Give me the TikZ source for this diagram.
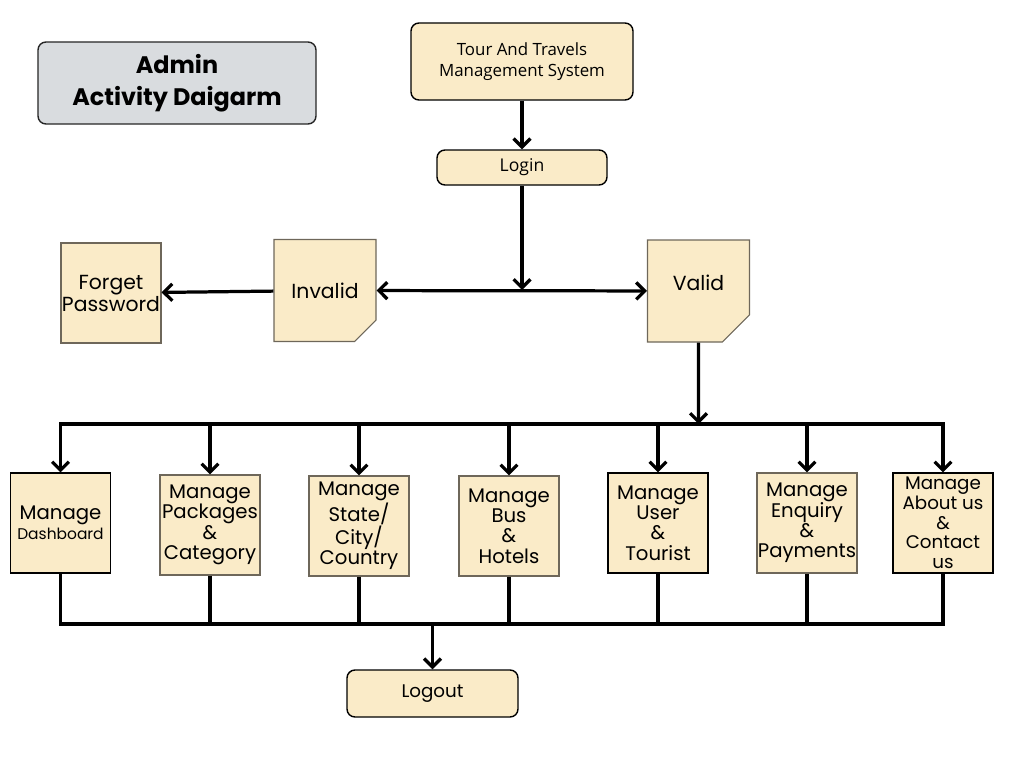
\documentclass[tikz,border=0pt]{standalone}
\usepackage{fontspec}
\setmainfont{Poppins}
\newfontfamily\grot{Open Sans}
\usepackage{tikz}
\usetikzlibrary{positioning,arrows.meta,shapes.misc}
\definecolor{cream}{HTML}{FAEBC8}
\definecolor{hdrgray}{HTML}{D9DCDF}
\definecolor{edge}{HTML}{6E675A}
\tikzset{
  hdr/.style={rectangle, rounded corners=2mm, fill=hdrgray, draw=black!85, line width=1pt, minimum width=69.5mm, minimum height=20.5mm, align=center, font=\fontsize{17}{23}\selectfont\bfseries},
  rbox/.style={rectangle, rounded corners=2mm, fill=cream, draw=black, line width=1pt, inner sep=0pt, align=center},
  sq/.style={rectangle, fill=cream, draw=black, line width=0.8pt, minimum size=25mm, inner sep=0pt, align=center, font=\fontsize{14}{14.5}\selectfont},
  gsq/.style={sq, draw=edge},
  note/.style={chamfered rectangle, chamfered rectangle corners=south east, chamfered rectangle xsep=3.4mm, chamfered rectangle ysep=3.4mm, fill=cream, draw=edge, line width=0.8pt, minimum width=25.5mm, minimum height=25.5mm, inner sep=0pt, font=\fontsize{14.5}{15}\selectfont},
  ar/.style={draw=black, line width=2.3pt, -{Straight Barb[length=6pt,width=12pt]}},
  dar/.style={ar, {Straight Barb[length=6pt,width=12pt]}-{Straight Barb[length=6pt,width=12pt]}},
  ln/.style={draw=black, line width=2.3pt}
}
\begin{document}
\begin{tikzpicture}[x=0.25mm, y=-0.25mm]
  \useasboundingbox (0,0) rectangle (1024,768);
  \node[hdr] (title) at (177,83) {Admin\\Activity Daigarm};
  \node[rbox, minimum width=55.5mm, minimum height=19.25mm, font=\grot\fontsize{12}{14.5}\selectfont] (tour) at (522,61.5) {Tour And Travels\\Management System};
  \node[rbox, minimum width=42.5mm, minimum height=8.75mm, font=\grot\fontsize{12.5}{14}\selectfont] (login) at (522,167.5) {Login};
  \node[gsq, font=\fontsize{14.5}{14.5}\selectfont] (fgt) at (111,293) {Forget\\Password};
  \node[note] (inv) at (325,290.5) {Invalid};
  \node[note, text depth=12pt] (val) at (698.5,291) {Valid};
  \coordinate (jn) at (522,290);
  \coordinate (top) at (0,424);
  \coordinate (bot) at (0,624);
  % activities
  \node[sq] (dash) at (60.5,523) {Manage\\{\fontsize{11}{12}\selectfont Dashboard}};
  \node[gsq] (pkg) at (210,525) {Manage\\Packages\\\&\\Category};
  \node[gsq] (geo) at (359,526) {Manage\\State/\\City/\\Country};
  \node[gsq] (bus) at (509,526) {Manage\\Bus\\\&\\Hotels};
  \node[sq] (usr) at (658,523) {Manage\\User\\\&\\Tourist};
  \node[gsq] (enq) at (807,523) {Manage\\Enquiry\\\&\\Payments};
  \node[sq, font=\fontsize{13}{14}\selectfont] (abt) at (943,523) {Manage\\About us\\\&\\Contact\\us};
  \node[rbox, minimum width=42.75mm, minimum height=11.75mm, font=\fontsize{13}{15}\selectfont] (out) at (432.5,693.5) {Logout};
  % flow
  \draw[ar] (tour) -- (login);
  \draw[ar] (login) -- (jn);
  \draw[dar] (inv) -- (val);
  \draw[ar] (inv) -- (fgt);
  \draw[ar] (val) -- (val |- top);
  \draw[ln, line cap=rect] (dash |- top) -- (abt |- top);
  \draw[ar] (dash |- top) -- (dash); \draw[ar] (pkg |- top) -- (pkg);
  \draw[ar] (geo |- top) -- (geo); \draw[ar] (bus |- top) -- (bus);
  \draw[ar] (usr |- top) -- (usr); \draw[ar] (enq |- top) -- (enq);
  \draw[ar] (abt |- top) -- (abt);
  \draw[ln] (dash) -- (dash |- bot) -- (abt |- bot) -- (abt);
  \draw[ln] (pkg) -- (pkg |- bot); \draw[ln] (geo) -- (geo |- bot);
  \draw[ln] (bus) -- (bus |- bot); \draw[ln] (usr) -- (usr |- bot);
  \draw[ln] (enq) -- (enq |- bot);
  \draw[ar] (out |- bot) -- (out);
\end{tikzpicture}
\end{document}
